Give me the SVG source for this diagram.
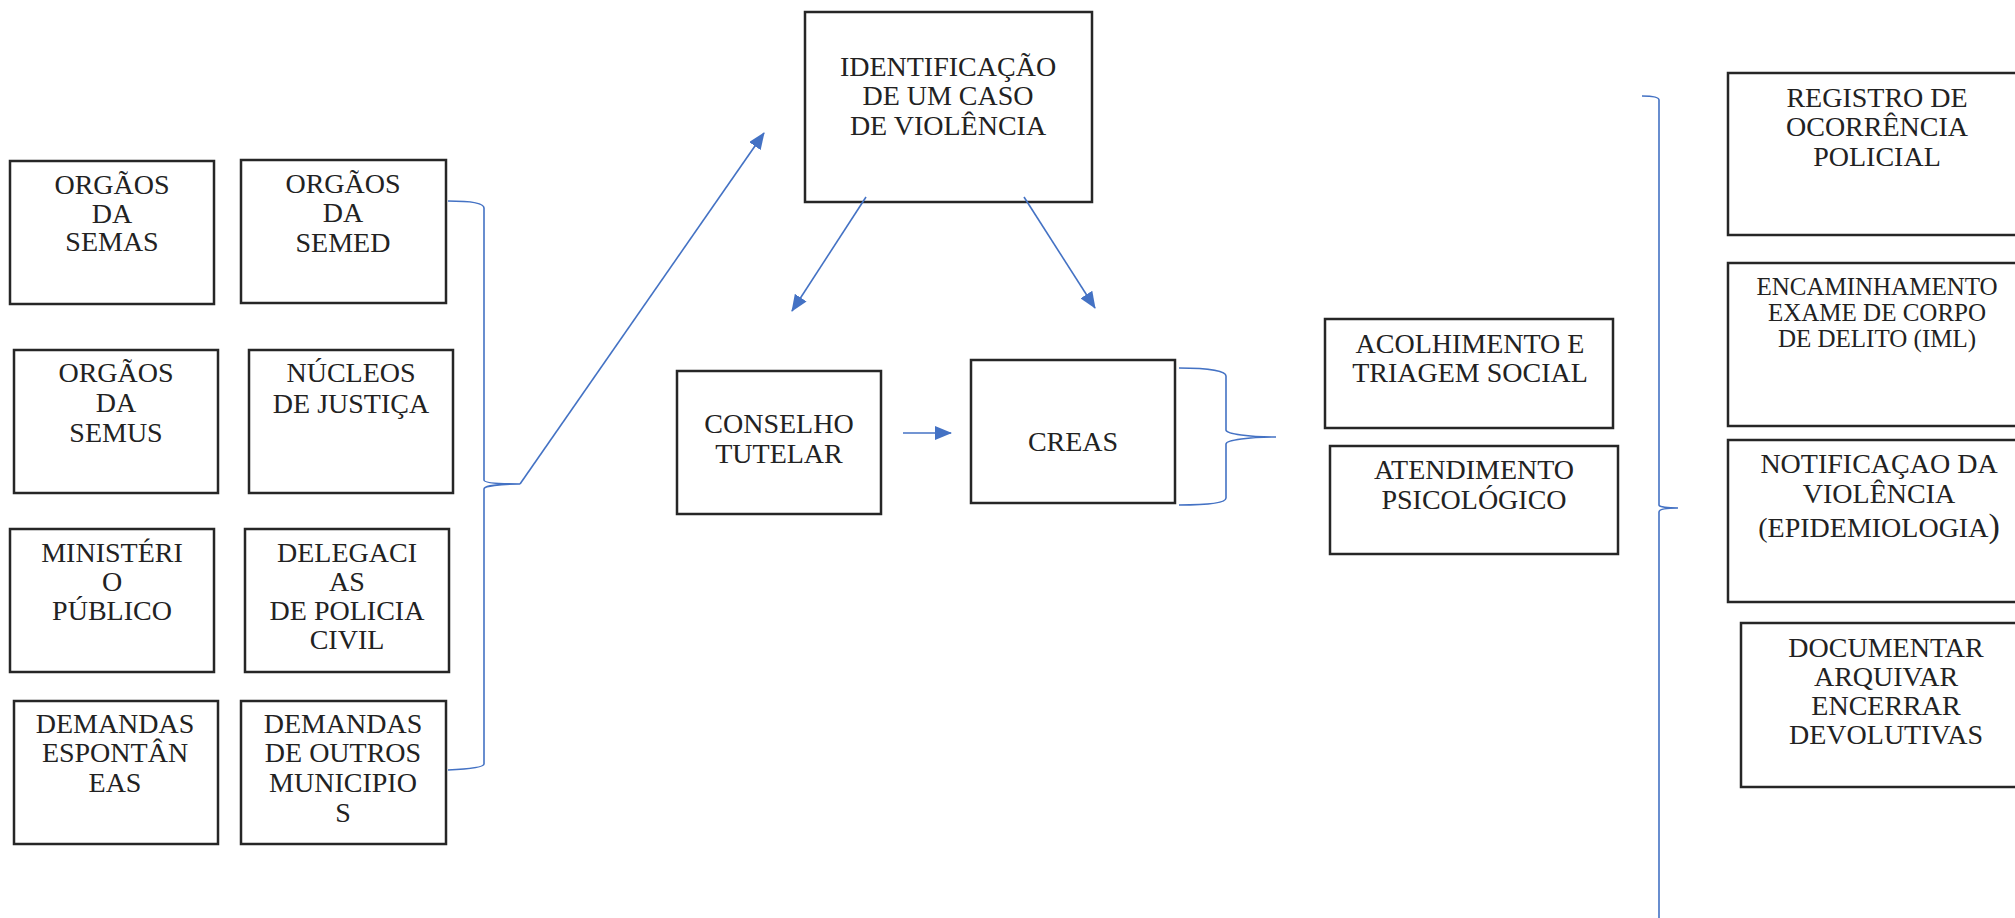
<svg xmlns="http://www.w3.org/2000/svg" width="2015" height="918" viewBox="0 0 2015 918">
<style>
  .box{fill:#fff;stroke:#262626;stroke-width:2.5}
  .t{font-family:"Liberation Serif","Times New Roman",serif;font-size:28px;fill:#222;text-anchor:middle}
  .s{font-size:25px}
  .c{fill:none;stroke:#4472C4;stroke-width:1.6}
</style>
<defs>
  <marker id="ah" markerUnits="userSpaceOnUse" markerWidth="18" markerHeight="14" refX="16" refY="7" orient="auto">
    <path d="M0,0 L17,7 L0,14 z" fill="#4472C4"/>
  </marker>
</defs>
<rect width="2015" height="918" fill="#fff"/>

<g id="n-semas"><rect class="box" x="10" y="161" width="204" height="143"/>
<text class="t" x="112" y="194">ORGÃOS</text><text class="t" x="112" y="223">DA</text><text class="t" x="112" y="251">SEMAS</text></g>
<g id="n-semed"><rect class="box" x="241" y="160" width="205" height="143"/>
<text class="t" x="343" y="193">ORGÃOS</text><text class="t" x="343" y="222">DA</text><text class="t" x="343" y="252">SEMED</text></g>
<g id="n-semus"><rect class="box" x="14" y="350" width="204" height="143"/>
<text class="t" x="116" y="382">ORGÃOS</text><text class="t" x="116" y="412">DA</text><text class="t" x="116" y="442">SEMUS</text></g>
<g id="n-nucleos"><rect class="box" x="249" y="350" width="204" height="143"/>
<text class="t" x="351" y="382">NÚCLEOS</text><text class="t" x="351" y="413">DE JUSTIÇA</text></g>
<g id="n-ministerio"><rect class="box" x="10" y="529" width="204" height="143"/>
<text class="t" x="112" y="562">MINISTÉRI</text><text class="t" x="112" y="591">O</text><text class="t" x="112" y="620">PÚBLICO</text></g>
<g id="n-delegacias"><rect class="box" x="245" y="529" width="204" height="143"/>
<text class="t" x="347" y="562">DELEGACI</text><text class="t" x="347" y="591">AS</text><text class="t" x="347" y="620">DE POLICIA</text><text class="t" x="347" y="649">CIVIL</text></g>
<g id="n-espontaneas"><rect class="box" x="14" y="701" width="204" height="143"/>
<text class="t" x="115" y="733">DEMANDAS</text><text class="t" x="115" y="762">ESPONTÂN</text><text class="t" x="115" y="792">EAS</text></g>
<g id="n-outros"><rect class="box" x="241" y="701" width="205" height="143"/>
<text class="t" x="343" y="733">DEMANDAS</text><text class="t" x="343" y="762">DE OUTROS</text><text class="t" x="343" y="792">MUNICIPIO</text><text class="t" x="343" y="822">S</text></g>

<g id="n-identificacao"><rect class="box" x="805" y="12" width="287" height="190"/>
<text class="t" x="948" y="76">IDENTIFICAÇÃO</text><text class="t" x="948" y="105">DE UM CASO</text><text class="t" x="948" y="135">DE VIOLÊNCIA</text></g>
<g id="n-conselho"><rect class="box" x="677" y="371" width="204" height="143"/>
<text class="t" x="779" y="433">CONSELHO</text><text class="t" x="779" y="463">TUTELAR</text></g>
<g id="n-creas"><rect class="box" x="971" y="360" width="204" height="143"/>
<text class="t" x="1073" y="451">CREAS</text></g>
<g id="n-acolhimento"><rect class="box" x="1325" y="319" width="288" height="109"/>
<text class="t" x="1470" y="353">ACOLHIMENTO E</text><text class="t" x="1470" y="382">TRIAGEM SOCIAL</text></g>
<g id="n-atendimento"><rect class="box" x="1330" y="446" width="288" height="108"/>
<text class="t" x="1474" y="479">ATENDIMENTO</text><text class="t" x="1474" y="509">PSICOLÓGICO</text></g>

<g id="n-registro"><rect class="box" x="1728" y="73" width="300" height="162"/>
<text class="t" x="1877" y="107">REGISTRO DE</text><text class="t" x="1877" y="136">OCORRÊNCIA</text><text class="t" x="1877" y="166">POLICIAL</text></g>
<g id="n-encaminhamento"><rect class="box" x="1728" y="263" width="300" height="163"/>
<text class="t s" x="1877" y="295">ENCAMINHAMENTO</text><text class="t s" x="1877" y="321">EXAME DE CORPO</text><text class="t s" x="1877" y="347">DE DELITO (IML)</text></g>
<g id="n-notificacao"><rect class="box" x="1728" y="440" width="300" height="162"/>
<text class="t" x="1879" y="473">NOTIFICAÇAO DA</text><text class="t" x="1879" y="503">VIOLÊNCIA</text><text class="t" x="1879" y="537">(EPIDEMIOLOGIA<tspan style="font-size:34px">)</tspan></text></g>
<g id="n-documentar"><rect class="box" x="1741" y="623" width="300" height="164"/>
<text class="t" x="1886" y="657">DOCUMENTAR</text><text class="t" x="1886" y="686">ARQUIVAR</text><text class="t" x="1886" y="715">ENCERRAR</text><text class="t" x="1886" y="744">DEVOLUTIVAS</text></g>

<g id="connectors">
  <path class="c" d="M448,201 C470,201 484,203 484,208 L484,480 C484,483 500,484 520,484 C500,484 484,486 484,489 L484,764 C484,767 470,769 448,770"/>
  <path class="c" d="M1179,368 C1210,368 1226,371 1226,376 L1226,430 C1226,434 1250,437 1276,437 C1250,437 1226,440 1226,444 L1226,498 C1226,503 1210,505 1179,505"/>
  <path class="c" d="M1642,96 C1652,96 1659,97 1659,100 L1659,505 C1659,507 1668,508 1678,508 C1668,508 1659,509 1659,512 L1659,918"/>
  <line class="c" x1="520" y1="484" x2="764" y2="133" marker-end="url(#ah)"/>
  <line class="c" x1="866" y1="197" x2="792" y2="311" marker-end="url(#ah)"/>
  <line class="c" x1="1024" y1="197" x2="1095" y2="308" marker-end="url(#ah)"/>
  <line class="c" x1="903" y1="433" x2="951" y2="433" marker-end="url(#ah)"/>
</g>
</svg>
